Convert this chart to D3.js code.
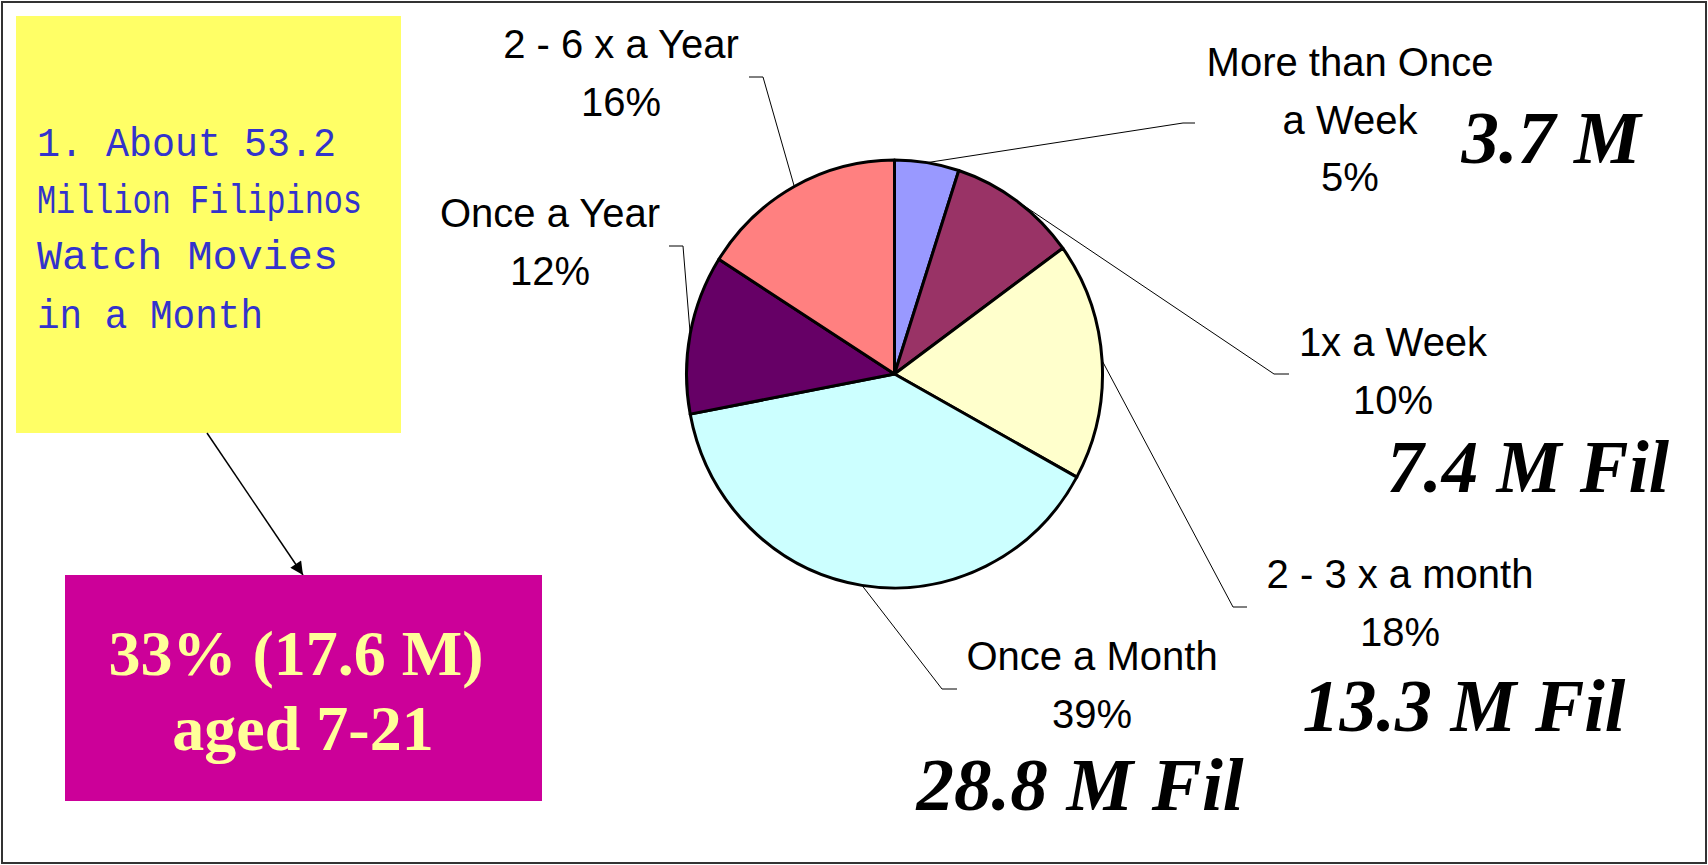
<!DOCTYPE html>
<html>
<head>
<meta charset="utf-8">
<title>Filipino movie-going frequency</title>
<style>
body { margin: 0; background: #fff; }
.label { font-family: "Liberation Sans", Arial, sans-serif; font-size: 40px; fill: #000; }
.big { font-family: "Liberation Serif", "Times New Roman", serif; font-weight: bold; font-style: italic; fill: #000; }
.note { font-family: "Liberation Mono", "Courier New", monospace; font-size: 40px; fill: #3333cc; }
.pinktext { font-family: "Liberation Serif", "Times New Roman", serif; font-weight: bold; font-size: 64px; fill: #ffff99; }
path.leader { fill: none; stroke: #000; stroke-width: 1px; }
</style>
</head>
<body>
<script src="https://cdnjs.cloudflare.com/ajax/libs/d3/7.8.5/d3.min.js"></script>
<script>

// data
var categories = ["More than Once\na Week", "1x a Week", "2 - 3 x a month", "Once a Month", "Once a Year", "2 - 6 x a Year"];
var percents = [5, 10, 18, 39, 12, 16];
var millions = ["3.7 M", "7.4 M Fil", "13.3 M Fil", "28.8 M Fil", "", ""];
var noteLines = ["1. About 53.2", "Million Filipinos", "Watch Movies", "in a Month"];
var youthLines = ["33% (17.6 M)", "aged 7-21"];

var width = 1708, height = 865;

var svg = d3.select("body").append("svg")
    .attr("width", width)
    .attr("height", height);

// outer frame
svg.append("rect")
    .attr("x", 2).attr("y", 2)
    .attr("width", width - 4).attr("height", height - 4)
    .attr("fill", "#fff")
    .attr("stroke", "#333")
    .attr("stroke-width", 2);

// ---- pie ----
var cx = 894.5, cy = 374, rx = 208, ry = 214;

var color = d3.scaleOrdinal()
    .domain(categories)
    .range(["#9999ff", "#993366", "#ffffcc", "#ccffff", "#660066", "#ff8080"]);

var pie = d3.pie().sort(null).value(function(d) { return d.value; });
var arcs = pie(categories.map(function(c, i) { return {name: c, value: percents[i]}; }));

var arc = d3.arc().innerRadius(0).outerRadius(rx);

svg.append("g")
    .attr("transform", "translate(" + cx + "," + cy + ") scale(1," + (ry / rx) + ")")
    .selectAll("path")
    .data(arcs)
    .enter().append("path")
    .attr("d", arc)
    .attr("fill", function(d) { return color(d.data.name); })
    .attr("stroke", "#000")
    .attr("stroke-width", 3)
    .attr("vector-effect", "non-scaling-stroke")
    .attr("stroke-linejoin", "round");

// label placement (hand placed like the original slide)
var layout = [
  {x: 1350, y: 76,  elbow: [1183, 123], tick: 1195, big: [1551, 163, 75]},
  {x: 1393, y: 356, elbow: [1274, 374], tick: 1289, big: [1528, 492, 73]},
  {x: 1400, y: 588, elbow: [1233, 607], tick: 1247, big: [1464, 731, 74]},
  {x: 1092, y: 670, elbow: [942, 689],  tick: 957,  big: [1080, 810, 75]},
  {x: 550,  y: 227, elbow: [683, 246],  tick: 669},
  {x: 621,  y: 58,  elbow: [763, 77],   tick: 749}
];
var lineH = 57.5;

// leader lines from slice mid-angle on the rim to the label
svg.append("g").selectAll("path")
    .data(arcs)
    .enter().append("path")
    .attr("class", "leader")
    .attr("d", function(d, i) {
      var a = (d.startAngle + d.endAngle) / 2;
      var px = cx + rx * Math.sin(a), py = cy - ry * Math.cos(a);
      var L = layout[i];
      return "M" + px + "," + py + "L" + L.elbow[0] + "," + L.elbow[1] + "L" + L.tick + "," + L.elbow[1];
    });

// category + percent labels
var labels = svg.append("g").selectAll("text")
    .data(arcs)
    .enter().append("text")
    .attr("class", "label")
    .attr("text-anchor", "middle");

labels.each(function(d, i) {
  var lines = d.data.name.split("\n").concat([d.data.value + "%"]);
  var t = d3.select(this);
  lines.forEach(function(s, k) {
    t.append("tspan")
      .attr("x", layout[i].x)
      .attr("y", layout[i].y + k * lineH)
      .text(s);
  });
});

// big italic population figures
svg.append("g").selectAll("text")
    .data(millions.filter(function(m) { return m !== ""; }))
    .enter().append("text")
    .attr("class", "big")
    .attr("text-anchor", "middle")
    .attr("x", function(d, i) { return layout[i].big[0]; })
    .attr("y", function(d, i) { return layout[i].big[1]; })
    .style("font-size", function(d, i) { return layout[i].big[2] + "px"; })
    .text(function(d) { return d; });

// ---- yellow note ----
svg.append("rect")
    .attr("x", 16).attr("y", 16)
    .attr("width", 385).attr("height", 417)
    .attr("fill", "#ffff66");

var noteBase = [156, 213, 269, 328];
var noteLen = [299, 325, 301, 226];
svg.append("g").selectAll("text")
    .data(noteLines)
    .enter().append("text")
    .attr("class", "note")
    .attr("x", 37)
    .attr("y", function(d, i) { return noteBase[i]; })
    .attr("textLength", function(d, i) { return noteLen[i]; })
    .attr("lengthAdjust", "spacingAndGlyphs")
    .text(function(d) { return d; });

// arrow from note to pink box
svg.append("defs").append("marker")
    .attr("id", "head")
    .attr("viewBox", "0 0 10 10")
    .attr("refX", 10).attr("refY", 5)
    .attr("markerWidth", 16).attr("markerHeight", 13)
    .attr("markerUnits", "userSpaceOnUse")
    .attr("orient", "auto")
    .append("path")
    .attr("d", "M0,0L10,5L0,10Z")
    .attr("fill", "#000");

svg.append("line")
    .attr("x1", 207).attr("y1", 433)
    .attr("x2", 303).attr("y2", 575)
    .attr("stroke", "#000")
    .attr("stroke-width", 1.5)
    .attr("marker-end", "url(#head)");

// ---- pink box ----
svg.append("rect")
    .attr("x", 65).attr("y", 575)
    .attr("width", 477).attr("height", 226)
    .attr("fill", "#cc0099");

var youthPos = [[296, 675], [303, 750]];
svg.append("g").selectAll("text")
    .data(youthLines)
    .enter().append("text")
    .attr("class", "pinktext")
    .attr("text-anchor", "middle")
    .attr("x", function(d, i) { return youthPos[i][0]; })
    .attr("y", function(d, i) { return youthPos[i][1]; })
    .text(function(d) { return d; });

</script>
</body>
</html>
